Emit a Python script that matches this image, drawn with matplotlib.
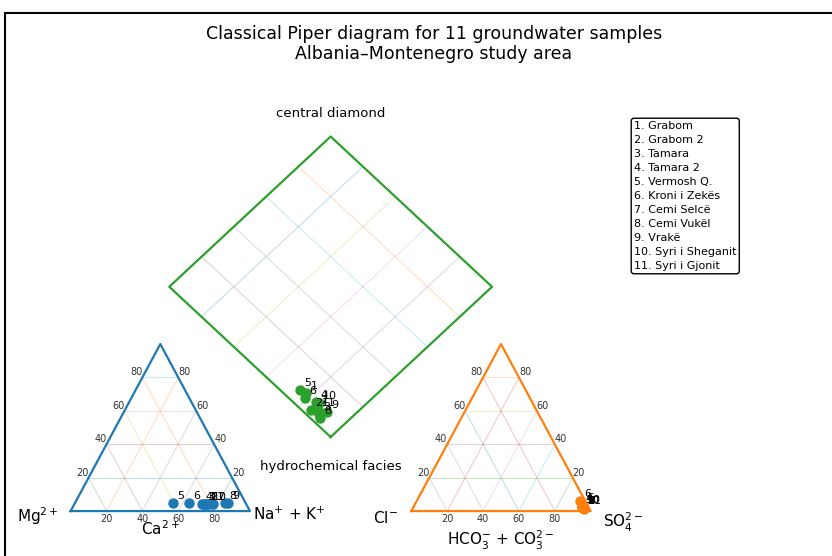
import matplotlib.pyplot as plt
import matplotlib.patches as mpatches
import numpy as np

# sample names
names = ['Grabom', 'Grabom 2', 'Tamara', 'Tamara 2', 'Vermosh Q.', 'Kroni i Zekës',
         'Cemi Selcë', 'Cemi Vukël', 'Vrakë', 'Syri i Sheganit', 'Syri i Gjonit']

# cation triangle (position along base %, height %)
cat_base = [75, 75.5, 74, 73, 57, 66, 79.5, 86, 88, 77, 76]
cat_up   = [4.2, 4.2, 4.2, 4.2, 4.8, 4.8, 4.2, 4.8, 4.8, 4.2, 4.2]

# anion triangle (position along base %, height %)
an_base = [95, 95.5, 96, 95, 95.5, 94, 96, 96.5, 95, 95.5, 96]
an_up   = [2.5, 2, 2, 3, 3.5, 6, 2, 1.5, 2.5, 2.5, 2]

# central diamond (% along lower-left edge, % along lower-right edge)
dia_left  = [22, 15, 11, 16, 25, 21, 14, 9.5, 9.5, 15, 13]
dia_right = [7, 3, 4, 7, 6, 5, 5, 3, 7, 7.5, 5]

ticks = [20, 40, 60, 80]

H = 100 * np.sqrt(3) / 2      # triangle height
off = 190                     # x offset of the anion triangle
dbot = np.array([145, 38.4])  # bottom corner of the diamond
dL = np.array([-90, 77.9])
dR = np.array([90, 77.9])

fig = plt.figure(figsize=(8.32, 5.56), dpi=100)
ax = fig.add_axes([0, 0, 1, 1])
ax.set_xlim(-39.4, 424.6)
ax.set_ylim(-23.3, 265.0)
ax.axis('off')

cyc = plt.rcParams['axes.prop_cycle'].by_key()['color']
k = 0

def tri_grid(x0):
    global k
    for t in ticks:
        segs = [((x0 + t / 2, x0 + 100 - t / 2), (t * H / 100, t * H / 100)),
                ((x0 + t, x0 + t + (100 - t) / 2), (0, (100 - t) * H / 100)),
                ((x0 + t, x0 + t / 2), (0, t * H / 100))]
        for sx, sy in segs:
            ax.plot(sx, sy, color=cyc[k % 10], alpha=0.25, lw=0.8, zorder=1)
            k += 1

def tri_frame(x0, color):
    ax.plot([x0, x0 + 100, x0 + 50, x0], [0, 0, H, 0], color=color, lw=1.6, zorder=2)
    for t in ticks:
        ax.text(x0 + t, -4.2, str(t), ha='center', va='center', fontsize=7, color='#333333')
        ax.text(x0 + t / 2, t * H / 100, str(t), ha='right', va='bottom', fontsize=7, color='#333333')
        ax.text(x0 + 100 - t / 2, t * H / 100, str(t), ha='left', va='bottom', fontsize=7, color='#333333')

tri_grid(0)
tri_grid(off)
tri_frame(0, 'C0')
tri_frame(off, 'C1')

# diamond grid + frame
for f in [0.2, 0.4, 0.6, 0.8]:
    for a, b in [(dL, dR), (dR, dL)]:
        p = dbot + f * a
        q = p + b
        ax.plot([p[0], q[0]], [p[1], q[1]], color=cyc[k % 10], alpha=0.25, lw=0.8, zorder=1)
        k += 1
corners = np.array([dbot, dbot + dL, dbot + dL + dR, dbot + dR, dbot])
ax.plot(corners[:, 0], corners[:, 1], color='C2', lw=1.6, zorder=2)

# samples
cx = np.array(cat_base)
cy = np.array(cat_up) * H / 100
ax_ = off + np.array(an_base)
ay = np.array(an_up) * H / 100
fa = np.array(dia_left) / 100
fb = np.array(dia_right) / 100
dx = dbot[0] + fa * dL[0] + fb * dR[0]
dy = dbot[1] + fa * dL[1] + fb * dR[1]

ax.scatter(cx, cy, s=42, color='C0', zorder=3)
ax.scatter(ax_, ay, s=42, color='C1', zorder=3)
ax.scatter(dx, dy, s=42, color='C2', zorder=3)
for i in range(len(names)):
    for px, py in [(cx[i], cy[i]), (ax_[i], ay[i]), (dx[i], dy[i])]:
        ax.annotate(str(i + 1), (px, py), xytext=(3, 3), textcoords='offset points',
                    fontsize=8, zorder=4)

# labels
ax.text(-18.2, -2.6, r'Mg$^{2+}$', ha='center', va='center', fontsize=11)
ax.text(121.7, -1.6, r'Na$^{+}$ + K$^{+}$', ha='center', va='center', fontsize=11)
ax.text(49.8, -9.3, r'Ca$^{2+}$', ha='center', va='center', fontsize=11)
ax.text(175.3, -3.6, r'Cl$^{-}$', ha='center', va='center', fontsize=11)
ax.text(308, -5.7, r'SO$_4^{2-}$', ha='center', va='center', fontsize=11)
ax.text(240, -15, r'HCO$_3^{-}$ + CO$_3^{2-}$', ha='center', va='center', fontsize=11)
ax.text(145, 206, 'central diamond', ha='center', va='center', fontsize=9.5)
ax.text(145, 23, 'hydrochemical facies', ha='center', va='center', fontsize=9.5)

legend_txt = '\n'.join(f'{i + 1}. {n}' for i, n in enumerate(names))
fig.text(634 / 832, 1 - 121 / 556, legend_txt, ha='left', va='top', fontsize=8, linespacing=1.5,
         bbox=dict(boxstyle='round,pad=0.25', fc='white', ec='black', lw=1))

fig.text(434 / 832, 1 - 44 / 556,
         'Classical Piper diagram for 11 groundwater samples\nAlbania–Montenegro study area',
         ha='center', va='center', fontsize=12.5)

# screenshot frame
fig.add_artist(mpatches.Rectangle((5 / 832, -0.1), 1.2, 1.1 - 13 / 556, transform=fig.transFigure,
                                  fill=False, ec='black', lw=1.5))

fig.savefig('out.png', dpi=100)
